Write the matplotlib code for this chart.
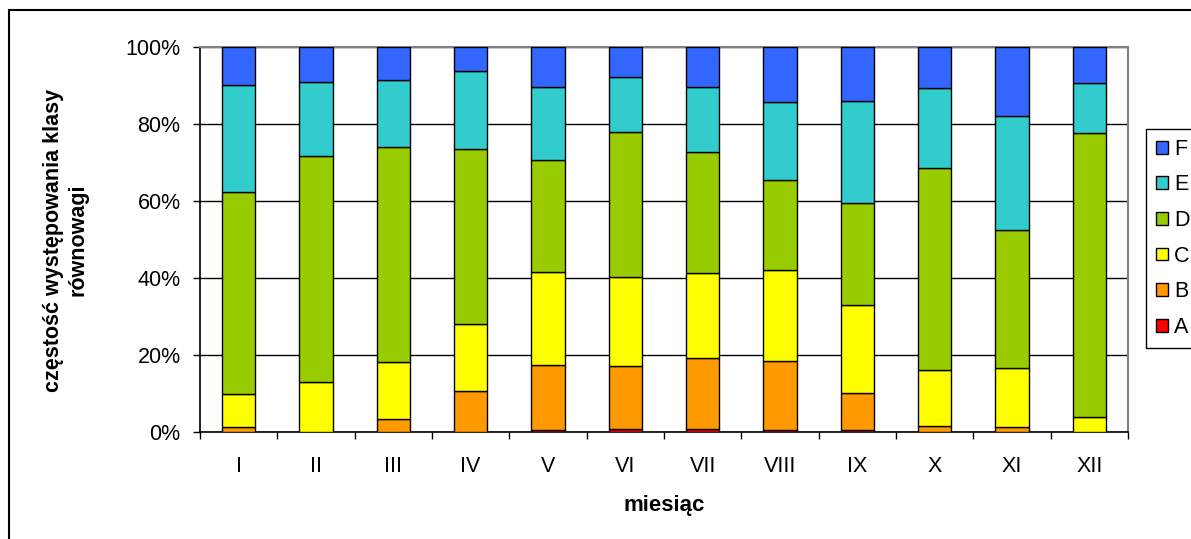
import matplotlib
matplotlib.use("Agg")
import matplotlib.pyplot as plt
import numpy as np
from matplotlib.patches import Rectangle, Patch

plt.rcParams['font.family'] = ['Liberation Sans', 'DejaVu Sans']

months = ["I", "II", "III", "IV", "V", "VI", "VII", "VIII", "IX", "X", "XI", "XII"]
# percentages of each stability class per month
A = [0.0, 0.0, 0.0, 0.0, 0.4, 0.9, 0.9, 0.4, 0.4, 0.0, 0.0, 0.0]
B = [1.3, 0.0, 3.5, 10.7, 17.1, 16.2, 18.3, 18.0, 9.8, 1.6, 1.3, 0.0]
C = [8.6, 13.0, 14.8, 17.4, 24.1, 23.2, 22.0, 23.7, 22.9, 14.5, 15.2, 4.0]
D = [52.4, 58.8, 55.6, 45.4, 29.1, 37.7, 31.4, 23.4, 26.5, 52.5, 36.0, 73.6]
E = [27.8, 19.2, 17.5, 20.2, 18.9, 14.3, 17.1, 20.1, 26.5, 20.7, 29.5, 13.0]
F = [9.9, 9.0, 8.6, 6.3, 10.4, 7.7, 10.3, 14.4, 13.9, 10.7, 18.0, 9.4]

series = [("A", A, "#FF0000"), ("B", B, "#FF9900"), ("C", C, "#FFFF00"),
          ("D", D, "#99CC00"), ("E", E, "#33CCCC"), ("F", F, "#3366FF")]

W, H = 1191, 539
fig = plt.figure(figsize=(W / 100, H / 100), dpi=100)

# outer chart border (clipped at right/bottom like the reference)
fig.patches.append(Rectangle((9 / W, -0.1), 1.2, 1 - 10 / H + 0.1, transform=fig.transFigure,
                             fill=False, edgecolor="black", linewidth=1.5, zorder=0))

left, right, top, bottom = 200, 1128, 47, 432
ax = fig.add_axes([left / W, 1 - bottom / H, (right - left) / W, (bottom - top) / H])

x = np.arange(len(months))
totals = np.array(A) + np.array(B) + np.array(C) + np.array(D) + np.array(E) + np.array(F)
bottom_acc = np.zeros(len(months))
handles = []
for name, vals, col in series:
    v = np.array(vals) / totals
    ax.bar(x, v, width=0.43, bottom=bottom_acc, color=col, edgecolor="black",
           linewidth=1.0, zorder=3)
    bottom_acc += v
    handles.append(Patch(facecolor=col, edgecolor="black", linewidth=1.0, label=name))

FS = 15.5
ax.set_xlim(-0.5, len(months) - 0.5)
ax.set_ylim(0, 1)
ax.set_yticks([0, 0.2, 0.4, 0.6, 0.8, 1.0])
ax.set_yticklabels(["0%", "20%", "40%", "60%", "80%", "100%"], fontsize=FS)
ax.yaxis.grid(True, color="black", linewidth=1.0, zorder=0)
ax.set_axisbelow(True)

ax.set_xticks(x)
ax.set_xticklabels(months, fontsize=FS)
ax.set_xticks(np.arange(-0.5, len(months)), minor=True)
ax.tick_params(axis="x", which="major", length=0, pad=17)
ax.tick_params(axis="x", which="minor", length=5, width=1.0, direction="out")
ax.tick_params(axis="y", which="major", length=5, width=1.0, direction="out", pad=9)

for s in ["left", "bottom"]:
    ax.spines[s].set_color("black")
    ax.spines[s].set_linewidth(1.2)
for s in ["top", "right"]:
    ax.spines[s].set_color("#808080")
    ax.spines[s].set_linewidth(1.5)

fig.text((left + right) / 2 / W, 1 - 506 / H, "miesiąc", ha="center", va="center",
         fontsize=16, fontweight="bold")
fig.text(66 / W, 1 - 240 / H, "częstość występowania klasy\nrównowagi", rotation=90,
         ha="center", va="center", multialignment="center", fontsize=15.5,
         fontweight="bold", linespacing=1.2)

leg = fig.legend(handles=handles[::-1], loc="upper left",
                 bbox_to_anchor=(1146 / W, 1 - 129 / H), fontsize=FS,
                 frameon=True, fancybox=False, edgecolor="black", framealpha=1,
                 handlelength=0.55, handleheight=0.55, handletextpad=0.3,
                 labelspacing=0.68, borderpad=0.45, borderaxespad=0)
leg.get_frame().set_linewidth(1.0)

fig.savefig("out.png", dpi=100)
